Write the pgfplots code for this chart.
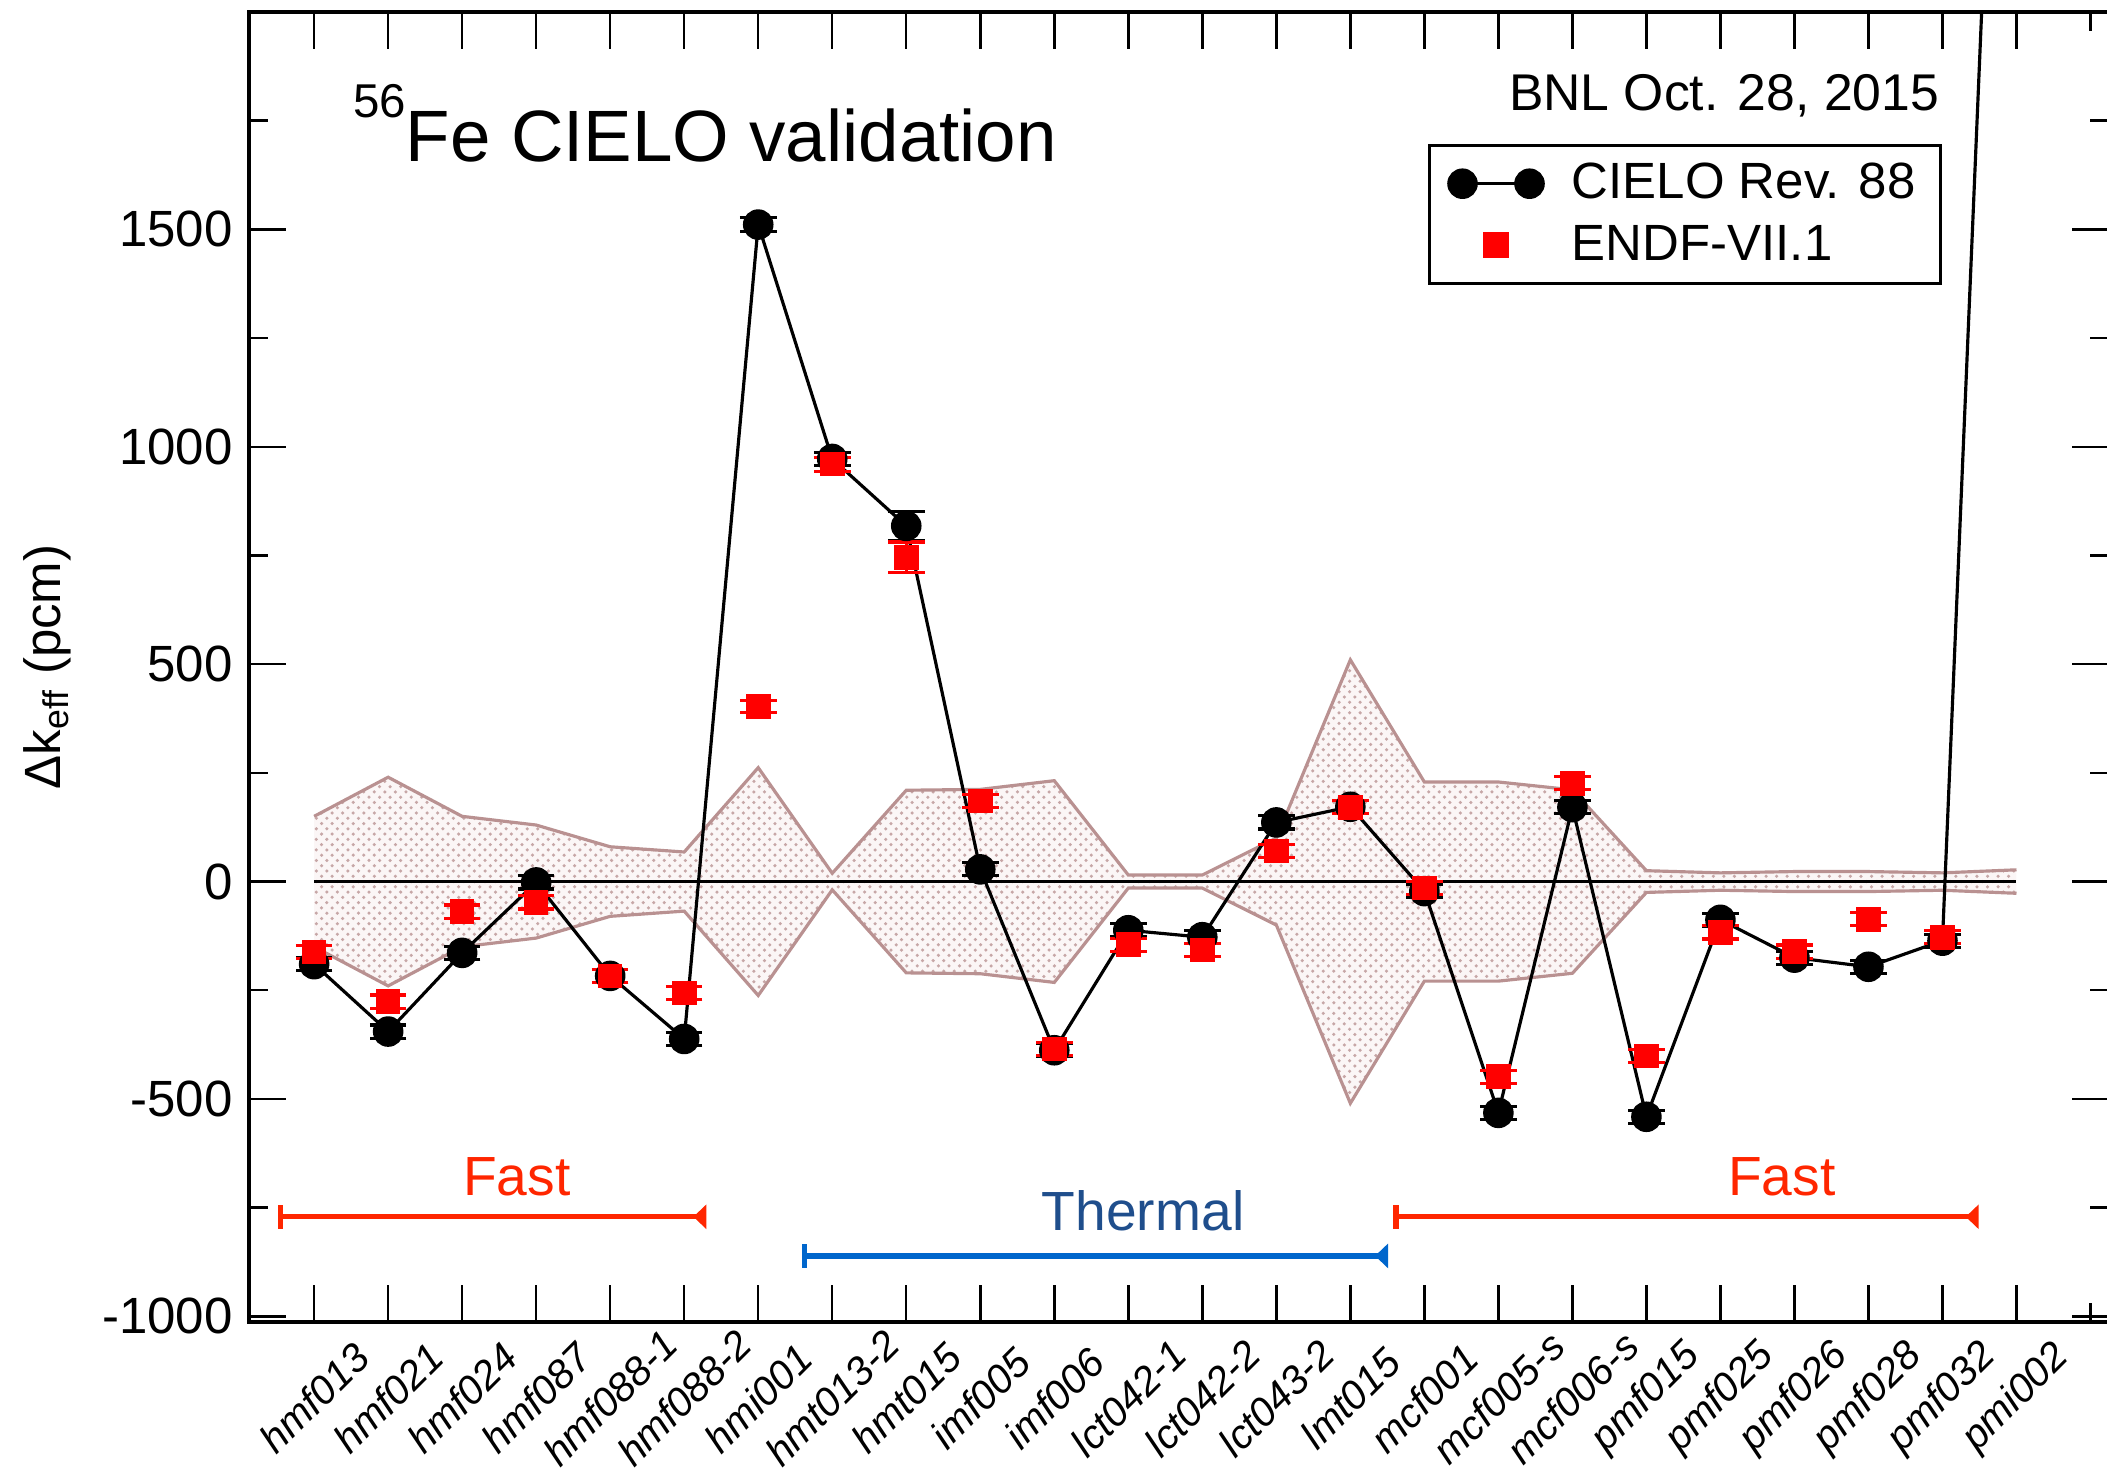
\documentclass[border=0pt]{standalone}
\usepackage{fontspec}
\setmainfont{Liberation Sans}
\usepackage{pgfplots}
\usepackage{pgfplotstable}
\pgfplotsset{compat=1.18}
\usepgfplotslibrary{fillbetween}
\usetikzlibrary{patterns,arrows.meta}

\definecolor{bandedge}{RGB}{185,145,145}
\definecolor{bandfill}{RGB}{251,246,246}
\definecolor{fastred}{RGB}{255,38,0}
\definecolor{thermline}{RGB}{0,102,204}
\definecolor{thermtext}{RGB}{31,78,140}

% benchmark index, CIELO rev.88, ENDF/B-VII.1, band half width (pcm)
\pgfplotstableread{
x cielo ecielo endf eendf band
0 -190 15 -162 15 150
1 -345 15 -276 15 240
2 -164 15 -69 15 150
3 -2 15 -48 15 130
4 -217 15 -217 15 80
5 -362 15 -256 15 68
6 1511 16 403 14 262
7 972 15 960 16 19
8 818 33 746 35 210
9 28 15 185 15 212
10 -388 15 -385 15 232
11 -112 15 -145 15 15
12 -128 15 -157 15 15
13 136 15 70 15 100
14 172 15 171 15 510
15 -22 15 -15 15 229
16 -532 15 -449 15 229
17 171 15 226 15 211
18 -541 15 -401 15 25
19 -88 15 -117 15 20
20 -175 15 -161 15 23
21 -196 15 -87 15 23
22 -136 15 -128 15 20
23 3900 15 nan nan 27
}\data

\begin{document}
\begin{tikzpicture}
\begin{axis}[
    scale only axis,
    width=18.60cm, height=13.10cm,
    xmin=-0.88, xmax=24.25,
    ymin=-1013, ymax=2000,
    xtick={0,...,23},
    minor xtick={24},
    xticklabels={hmf013,hmf021,hmf024,hmf087,hmf088-1,hmf088-2,hmi001,
        hmt013-2,hmt015,imf005,imf006,lct042-1,lct042-2,lct043-2,lmt015,
        mcf001,mcf005-s,mcf006-s,pmf015,pmf025,pmf026,pmf028,pmf032,pmi002},
    ytick={-1000,-500,...,1500},
    yticklabels={-1000,-500,0,500,1000,1500},
    minor ytick={-750,-250,250,750,1250,1750},
    tick align=inside,
    xtick pos=both, ytick pos=both,
    xticklabel pos=lower, yticklabel pos=left,
    major tick length=0.37cm,
    minor tick length=0.19cm,
    every tick/.style={black, line width=0.7pt},
    axis line style={line width=1.1pt},
    y tick label style={font=\fontsize{14.5}{17}\selectfont, xshift=-0.04cm},
    x tick label style={font=\fontsize{11.5}{13}\selectfont\itshape,
        yshift=-0.76cm, rotate=45, anchor=center, inner sep=0pt},
    every axis y label/.style={at={(axis description cs:0,0.5)},
        xshift=-2.02cm, rotate=90, anchor=center,
        font=\fontsize{14.5}{17}\selectfont},
    ylabel={Δk\textsubscript{eff} (pcm)},
    legend cell align=left,
    legend style={at={(rel axis cs:0.634,0.899)}, anchor=north west,
        draw=black, line width=0.8pt,
        font=\fontsize{14.5}{17}\selectfont,
        inner xsep=5pt, inner ysep=3pt, row sep=2pt,
        /tikz/every odd column/.append style={column sep=0.2cm}},
]
% uncertainty band
\addplot[name path=up, draw=none, forget plot] table[x=x, y=band] {\data};
\addplot[name path=lo, draw=none, forget plot] table[x=x, y expr=-\thisrow{band}] {\data};
\addplot[bandfill, forget plot] fill between[of=up and lo];
\addplot[pattern=crosshatch dots, pattern color=bandedge!80, forget plot] fill between[of=up and lo];
\addplot[bandedge, line width=0.9pt, forget plot] table[x=x, y=band] {\data};
\addplot[bandedge, line width=0.9pt, forget plot] table[x=x, y expr=-\thisrow{band}] {\data};

% zero line
\addplot[black, line width=0.8pt, forget plot] coordinates {(0,0) (23,0)};

% energy ranges
\addplot[fastred, line width=1.5pt, {Bar[width=0.24cm]}-{Triangle[reversed,length=0.13cm,width=0.24cm]}, forget plot]
    coordinates {(-0.49,-771) (5.30,-771)};
\addplot[thermline, line width=1.5pt, {Bar[width=0.24cm]}-{Triangle[reversed,length=0.13cm,width=0.24cm]}, forget plot]
    coordinates {(6.59,-861) (14.51,-861)};
\addplot[fastred, line width=1.5pt, {Bar[width=0.24cm]}-{Triangle[reversed,length=0.13cm,width=0.24cm]}, forget plot]
    coordinates {(14.58,-771) (22.49,-771)};

% CIELO
\addplot[black, line width=0.9pt, mark=*, mark size=3.9pt,
    mark options={solid, fill=black},
    error bars/.cd, y dir=both, y explicit,
    error bar style={line width=0.9pt, black},
    error mark options={rotate=90, black, mark size=5.2pt, line width=0.9pt},
    /pgfplots/legend image code/.code={
        \draw[black, line width=0.9pt] (0cm,0cm) -- (0.67cm,0cm);
        \fill[black] (0cm,0cm) circle (3.9pt);
        \fill[black] (0.67cm,0cm) circle (3.9pt);
    }]
    table[x=x, y=cielo, y error=ecielo] {\data};
\addlegendentry{CIELO Rev. 88}

% ENDF/B-VII.1
\addplot[only marks, red, mark=square*, mark size=3.3pt,
    mark options={solid, fill=red},
    error bars/.cd, y dir=both, y explicit,
    error bar style={line width=0.9pt, red},
    error mark options={rotate=90, red, mark size=5.2pt, line width=0.9pt},
    /pgfplots/legend image code/.code={
        \fill[red] (0.335cm-3.3pt,-3.3pt) rectangle ++(6.6pt,6.6pt);
    }]
    table[x=x, y=endf, y error=eendf] {\data};
\addlegendentry{ENDF-VII.1}

\node[anchor=base west, font=\fontsize{20.7}{24}\selectfont] at (axis cs:0.36,1656)
    {{\fontsize{13.5}{14}\selectfont\raisebox{12.5pt}{56}}Fe CIELO validation};
\node[anchor=base east, font=\fontsize{14.7}{17}\selectfont] at (axis cs:22.12,1773)
    {BNL Oct. 28, 2015};
\node[fastred, font=\fontsize{15.7}{18}\selectfont] at (axis cs:2.74,-680) {Fast};
\node[thermtext, font=\fontsize{15.7}{18}\selectfont] at (axis cs:11.2,-757) {Thermal};
\node[fastred, font=\fontsize{15.7}{18}\selectfont] at (axis cs:19.83,-680) {Fast};
\end{axis}
\pgfresetboundingbox
\path (current axis.south west) ++(-2.49cm,-1.50cm) rectangle ++(21.07cm,14.72cm);
\end{tikzpicture}
\end{document}
